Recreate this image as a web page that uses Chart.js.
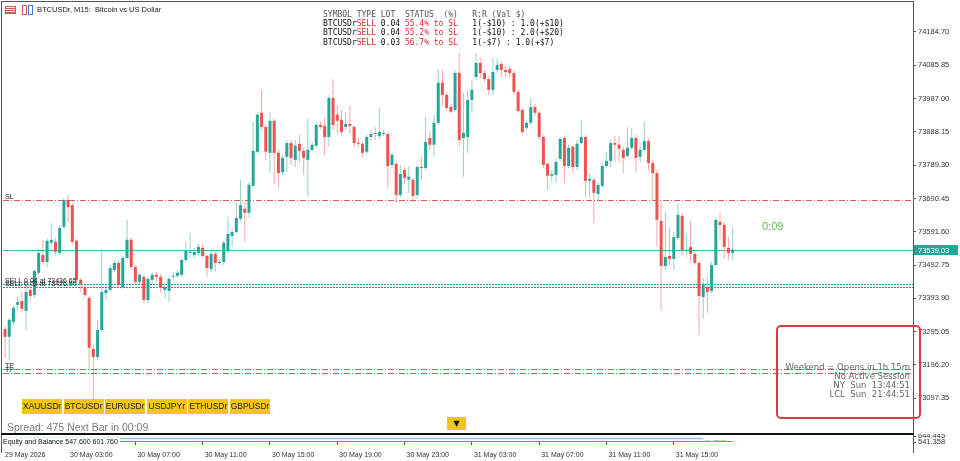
<!DOCTYPE html>
<html>
<head>
<meta charset="utf-8">
<title>BTCUSDr M15</title>
<script src="https://cdn.jsdelivr.net/npm/chart.js@4.4.1/dist/chart.umd.min.js"></script>
<style>
  html, body { margin: 0; padding: 0; background: #fff; }
  #stage { position: relative; width: 960px; height: 461px; overflow: hidden; font-family: "Liberation Sans", Arial, sans-serif; }
  canvas { position: absolute; left: 0; }
  #mainChart { top: 0; }
  #eqChart { top: 434px; }
  .abs { position: absolute; white-space: pre; }
  .rule { position: absolute; background: #555; }
  #title { left: 37px; top: 5px; font-size: 7.5px; line-height: 10px; color: #222; }
  .ico { position: absolute; box-sizing: border-box; }
  #posTable { left: 323px; top: 10px; font-family: "DejaVu Sans Mono", monospace; font-size: 8px; line-height: 9.2px; color: #111; }
  #posTable .hdr { color: #555; }
  #posTable .red { color: #e0282e; }
  #countdown { left: 762px; top: 220px; font-size: 11px; color: #5cb85c; }
  #session { left: 776px; top: 325px; width: 145px; height: 94px; box-sizing: border-box; border: 2px solid #dc3a40; border-radius: 5px; }
  #sessionText { right: 50px; top: 363px; text-align: right; font-family: "DejaVu Sans", sans-serif; font-size: 8.5px; line-height: 9.1px; color: #666; }
  .btn { position: absolute; top: 399px; width: 40px; height: 15px; background: #f5c516; color: #222; font-size: 8.5px; line-height: 15px; text-align: center; }
  #spread { left: 7px; top: 421px; font-size: 10.5px; color: #7a7a7a; }
  #arrowBtn { position: absolute; left: 447px; top: 417px; width: 19px; height: 13px; background: #f5c516; font-family: "DejaVu Sans", sans-serif; font-size: 8px; line-height: 13px; text-align: center; color: #111; }
  #eqLabel { left: 3px; top: 438px; font-size: 7px; line-height: 8px; color: #111; background: #fff; padding-right: 2px; }
</style>
</head>
<body>
<div id="stage">
  <canvas id="mainChart" width="960" height="434"></canvas>
  <canvas id="eqChart" width="960" height="27"></canvas>

  <div class="rule" style="left:1px; top:1px; width:913px; height:1px;"></div>
  <div class="rule" style="left:1px; top:1px; width:1px; height:452px;"></div>
  <div class="rule" style="left:913px; top:1px; width:1px; height:452px;"></div>
  <div class="rule" style="left:1px; top:433px; width:913px; height:2px; background:#111;"></div>

  <div class="ico" style="left:5px; top:6px; width:11px; height:8px; border:1px solid #d9534f; background:repeating-linear-gradient(#fff 0 1px, #d9534f 1px 2px);"></div>
  <div class="ico" style="left:22px; top:5px; width:5px; height:10px; border:1px solid #d9534f;"></div>
  <div class="ico" style="left:28px; top:5px; width:5px; height:10px; border:1px solid #3a7bd5;"></div>
  <div id="title" class="abs">BTCUSDr, M15:  Bitcoin vs US Dollar</div>

  <div id="posTable" class="abs"></div>
  <div id="countdown" class="abs">0:09</div>

  <div id="session" class="abs"></div>
  <div id="sessionText" class="abs"></div>

  <div id="buttons"></div>
  <div id="arrowBtn">▼</div>
  <div id="spread" class="abs">Spread: 475 Next Bar in 00:09</div>
  <div id="eqLabel" class="abs">Equity and Balance 547.600 601.760</div>
</div>

<script>
// Candle data (BTCUSDr M15), bar 0 = 29 May 23:15
const opens = [
  73303, 73280, 73324, 73375, 73386, 73357, 73419, 73404, 73470, 73523,
  73502, 73559, 73562, 73529, 73606, 73686, 73671, 73565, 73449, 73425,
  73395, 73244, 73220, 73300, 73410, 73419, 73478, 73499, 73428, 73514,
  73568, 73487, 73443, 73458, 73389, 73449, 73464, 73458, 73419, 73416,
  73458, 73461, 73464, 73508, 73529, 73523, 73529, 73544, 73520, 73481,
  73526, 73499, 73502, 73535, 73579, 73591, 73630, 73660, 73648, 73728,
  73829, 73945, 73903, 73826, 73921, 73826, 73769, 73814, 73855, 73805,
  73853, 73832, 73805, 73835, 73847, 73909, 73906, 73873, 73989, 73939,
  73924, 73903, 73912, 73903, 73855, 73853, 73829, 73873, 73885, 73876,
  73882, 73882, 73790, 73793, 73701, 73775, 73746, 73746, 73701, 73784,
  73781, 73870, 73850, 73915, 74034, 73998, 73962, 73953, 74063, 73870,
  73873, 73983, 74051, 74093, 74063, 74045, 74013, 74072, 74090, 74072,
  74075, 74063, 74007, 73953, 73900, 73915, 73962, 73945, 73873, 73793,
  73758, 73760, 73808, 73870, 73787, 73844, 73784, 73855, 73873, 73743,
  73746, 73704, 73728, 73787, 73802, 73855, 73850, 73835, 73817, 73841,
  73870, 73814, 73835, 73861, 73796, 73766, 73624, 73490, 73520, 73511,
  73573, 73639, 73535, 73547, 73526, 73499, 73398, 73428, 73416, 73493,
  73621, 73612, 73544, 73529
];
const highs = [
  73312, 73336, 73372, 73398, 73413, 73440, 73431, 73478, 73541, 73568,
  73570, 73618, 73573, 73612, 73692, 73701, 73677, 73570, 73455, 73434,
  73401, 73256, 73330, 73538, 73434, 73493, 73508, 73508, 73520, 73627,
  73573, 73493, 73470, 73464, 73458, 73470, 73473, 73467, 73440, 73458,
  73473, 73478, 73514, 73562, 73588, 73544, 73556, 73556, 73526, 73532,
  73532, 73508, 73565, 73636, 73603, 73680, 73746, 73680, 73740, 73918,
  73945, 74013, 73909, 73945, 73927, 73835, 73820, 73864, 73864, 73864,
  73879, 73841, 73927, 73858, 73915, 73918, 73930, 73998, 74045, 73968,
  73953, 73945, 73965, 73909, 73873, 73858, 73879, 73894, 73903, 73959,
  73894, 73888, 73826, 73799, 73790, 73784, 73787, 73752, 73790, 73814,
  73933, 73888, 73939, 74072, 74072, 74004, 73971, 74072, 74123, 74004,
  74013, 74043, 74123, 74108, 74072, 74054, 74108, 74108, 74096, 74084,
  74084, 74072, 74013, 73959, 73921, 73989, 73971, 73950, 73879, 73799,
  73775, 73811, 73873, 73876, 73850, 73850, 73864, 73924, 73879, 73766,
  73752, 73740, 73796, 73829, 73864, 73876, 73876, 73844, 73903, 73900,
  73879, 73855, 73918, 73870, 73805, 73775, 73680, 73651, 73603, 73591,
  73674, 73648, 73588, 73624, 73532, 73505, 73455, 73458, 73502, 73633,
  73648, 73621, 73576, 73606
];
const lows = [
  73217, 73211, 73315, 73360, 73354, 73300, 73389, 73395, 73464, 73493,
  73487, 73550, 73523, 73523, 73600, 73621, 73556, 73443, 73413, 73398,
  73182, 73063, 73211, 73294, 73389, 73413, 73473, 73428, 73422, 73508,
  73478, 73434, 73437, 73380, 73380, 73440, 73443, 73410, 73395, 73383,
  73449, 73455, 73458, 73502, 73514, 73514, 73520, 73514, 73458, 73473,
  73473, 73493, 73493, 73529, 73547, 73585, 73624, 73562, 73633, 73722,
  73823, 73894, 73805, 73766, 73734, 73722, 73760, 73769, 73790, 73784,
  73799, 73760, 73695, 73826, 73841, 73897, 73820, 73844, 73894, 73885,
  73879, 73894, 73885, 73844, 73841, 73814, 73820, 73864, 73864, 73867,
  73876, 73722, 73781, 73677, 73695, 73731, 73707, 73680, 73692, 73746,
  73775, 73835, 73814, 73909, 73968, 73953, 73942, 73948, 73844, 73755,
  73826, 73948, 74043, 74048, 74037, 73998, 73998, 74063, 74051, 74051,
  74048, 73998, 73945, 73882, 73894, 73909, 73936, 73864, 73781, 73716,
  73737, 73737, 73802, 73737, 73781, 73766, 73775, 73850, 73695, 73695,
  73618, 73683, 73722, 73781, 73784, 73799, 73799, 73766, 73811, 73835,
  73769, 73799, 73829, 73775, 73686, 73547, 73357, 73478, 73493, 73478,
  73568, 73523, 73517, 73502, 73493, 73285, 73333, 73351, 73410, 73487,
  73568, 73511, 73508, 73508
];
const closes = [
  73280, 73330, 73366, 73383, 73363, 73413, 73401, 73475, 73529, 73502,
  73565, 73568, 73532, 73603, 73686, 73665, 73562, 73449, 73437, 73404,
  73247, 73220, 73300, 73413, 73419, 73484, 73499, 73434, 73514, 73568,
  73487, 73443, 73464, 73389, 73452, 73464, 73458, 73425, 73428, 73452,
  73461, 73470, 73508, 73535, 73532, 73532, 73547, 73520, 73484, 73526,
  73499, 73502, 73559, 73585, 73591, 73633, 73671, 73648, 73731, 73832,
  73939, 73903, 73829, 73921, 73826, 73766, 73811, 73855, 73811, 73847,
  73832, 73811, 73835, 73850, 73909, 73903, 73873, 73989, 73909, 73921,
  73888, 73912, 73906, 73855, 73853, 73826, 73873, 73882, 73882, 73888,
  73885, 73787, 73820, 73701, 73763, 73752, 73755, 73698, 73784, 73781,
  73858, 73850, 73915, 74034, 73998, 73959, 73948, 74063, 73864, 73885,
  73983, 74013, 74093, 74063, 74045, 74013, 74066, 74087, 74072, 74066,
  74063, 74007, 73950, 73888, 73915, 73962, 73945, 73873, 73790, 73758,
  73763, 73799, 73867, 73787, 73841, 73784, 73853, 73873, 73743, 73749,
  73707, 73731, 73787, 73802, 73855, 73850, 73838, 73811, 73841, 73870,
  73811, 73835, 73861, 73796, 73766, 73627, 73490, 73517, 73511, 73576,
  73642, 73538, 73538, 73526, 73499, 73401, 73437, 73413, 73493, 73627,
  73612, 73547, 73529, 73539.03
];

// Price axis ticks and time axis labels
const priceTicks = [74184.70, 74085.85, 73987.00, 73888.15, 73789.30, 73690.45,
  73591.60, 73492.75, 73393.90, 73295.05, 73196.20, 73097.35];
const timeLabels = ['29 May 2026', '30 May 03:00', '30 May 07:00', '30 May 11:00', '30 May 15:00',
  '30 May 19:00', '30 May 23:00', '31 May 03:00', '31 May 07:00', '31 May 11:00', '31 May 15:00'];

// Trade levels
const slLevels = [73686];
const tpLevels = [73184.3, 73173.3];
const entryLevels = [73436.65, 73426.90];
const entryLots = ['0.04', '0.03'];
const lastPrice = 73539.03;

// Positions panel
const posSymbols = ['BTCUSDr', 'BTCUSDr', 'BTCUSDr'];
const posTypes = ['SELL', 'SELL', 'SELL'];
const posLots = ['0.04', '0.04', '0.03'];
const posStatus = ['55.4%', '55.2%', '56.7%'];
const posRR = ['1(-$10) : 1.0(+$10)', '1(-$10) : 2.0(+$20)', '1(-$7) : 1.0(+$7)'];

// Session panel and symbol buttons
const sessionLines = ['Weekend = Opens in 1h 15m', 'No Active Session', 'NY  Sun  13:44:51', 'LCL  Sun  21:44:51'];
const symbolButtons = ['XAUUSDr', 'BTCUSDr', 'EURUSDr', 'USDJPYr', 'ETHUSDr', 'GBPUSDr'];

// Equity pane (bar index, value)
const balancePts = [[0, 601.76], [166, 601.76]];
const equityPts = [[0, 547.6], [166, 547.6], [167, 556], [168, 549], [169, 560], [170, 551], [171, 557], [172, 550], [173, 547.6]];
const eqTicks = [644.445, 541.358];

// View window
const X_MIN = -0.48;
const X_MAX = 215.88;
const Y_MIN = 72997.3;
const Y_MAX = 74267.8;

const BULL = '#26a69a';
const BEAR = '#ef5350';
const BULL_WICK = 'rgba(38, 166, 154, 0.5)';
const BEAR_WICK = 'rgba(239, 83, 80, 0.5)';
const AXIS_FONT = { family: '"Liberation Sans", Arial, sans-serif', size: 7.5 };

// --- overlays ---
const table = document.getElementById('posTable');
let html = '<div class="hdr">SYMBOL TYPE LOT  STATUS  (%)   R:R (Val $)</div>';
posSymbols.forEach((sym, k) => {
    html += `<div>${sym}<span class="red">${posTypes[k]}</span> ${posLots[k]} <span class="red">${posStatus[k]} to SL</span>   ${posRR[k]}</div>`;
});
table.innerHTML = html;

document.getElementById('sessionText').textContent = sessionLines.join('\n');

const btnWrap = document.getElementById('buttons');
symbolButtons.forEach((s, k) => {
    const b = document.createElement('div');
    b.className = 'btn';
    b.style.left = (22 + k * 41.6) + 'px';
    b.textContent = s;
    btnWrap.appendChild(b);
});

// --- main candle chart ---
const idx = closes.map((_, i) => i);
const isUp = i => closes[i] >= opens[i];

const tradePlugin = {
    id: 'tradeLevels',
    beforeDatasetsDraw(chart) {
        const { ctx, chartArea: area, scales: { y } } = chart;
        ctx.save();
        ctx.lineWidth = 1;
        const level = (price, color, dash) => {
            const py = Math.round(y.getPixelForValue(price)) + 0.5;
            ctx.strokeStyle = color;
            ctx.setLineDash(dash);
            ctx.beginPath();
            ctx.moveTo(area.left, py);
            ctx.lineTo(area.right, py);
            ctx.stroke();
        };
        slLevels.forEach(p => level(p, '#dd5a5a', [6, 2, 1, 2]));
        tpLevels.forEach(p => level(p, '#dd5a5a', [6, 2, 1, 2]));
        entryLevels.forEach(p => level(p, '#1f9e90', [2, 1]));
        level(lastPrice, '#4db6ac', []);
        ctx.restore();
    },
    afterDatasetsDraw(chart) {
        const { ctx, scales: { y } } = chart;
        ctx.save();
        ctx.font = '7px "Liberation Sans", Arial, sans-serif';
        ctx.fillStyle = '#222';
        ctx.textBaseline = 'alphabetic';
        const tag = (text, price) => ctx.fillText(text, 5, Math.round(y.getPixelForValue(price)) - 1);
        slLevels.forEach(p => tag('SL', p));
        tpLevels.forEach(p => tag('TP', p));
        entryLevels.forEach((p, k) => tag(`SELL ${entryLots[k]} at ${p.toFixed(2)}`, p));
        ctx.restore();
    },
    afterDraw(chart) {
        const { ctx, chartArea: area, scales: { y } } = chart;
        const py = Math.round(y.getPixelForValue(lastPrice));
        ctx.save();
        ctx.fillStyle = BULL;
        ctx.fillRect(area.right + 1, py - 5, 44, 10);
        ctx.fillStyle = '#fff';
        ctx.font = '7.5px "Liberation Sans", Arial, sans-serif';
        ctx.textBaseline = 'middle';
        ctx.fillText(lastPrice.toFixed(2), area.right + 5, py + 0.5);
        ctx.restore();
    }
};

new Chart(document.getElementById('mainChart'), {
    type: 'bar',
    data: {
        datasets: [
            {
                data: idx.map(i => ({ x: i, y: [lows[i], highs[i]] })),
                backgroundColor: idx.map(i => isUp(i) ? BULL_WICK : BEAR_WICK),
                barThickness: 1,
                grouped: false,
                inflateAmount: 0,
                order: 2
            },
            {
                data: idx.map(i => ({ x: i, y: [opens[i], closes[i]] })),
                backgroundColor: idx.map(i => isUp(i) ? BULL : BEAR),
                barThickness: 3,
                minBarLength: 1,
                grouped: false,
                inflateAmount: 0,
                order: 1
            }
        ]
    },
    options: {
        responsive: false,
        animation: false,
        layout: { padding: { left: 3, top: 4, right: 0, bottom: 2 } },
        plugins: { legend: { display: false }, tooltip: { enabled: false } },
        scales: {
            x: { type: 'linear', min: X_MIN, max: X_MAX, offset: false, display: false },
            y: {
                position: 'right',
                min: Y_MIN,
                max: Y_MAX,
                afterFit(s) { s.width = 47; s.paddingTop = 0; s.paddingBottom = 0; },
                afterBuildTicks(s) { s.ticks = priceTicks.map(v => ({ value: v })); },
                ticks: { color: '#333', font: AXIS_FONT, padding: 2, autoSkip: false, callback: v => v.toFixed(2) },
                grid: { drawOnChartArea: false, tickLength: 3, color: '#555' },
                border: { color: '#555' }
            }
        }
    },
    plugins: [tradePlugin]
});

// --- equity / balance pane ---
const tickBars = [X_MIN].concat(timeLabels.slice(1).map((_, k) => 15 + 16 * k));

new Chart(document.getElementById('eqChart'), {
    type: 'line',
    data: {
        datasets: [
            { data: balancePts.map(([x, v]) => ({ x, y: v })), borderColor: '#8cc4ec', borderWidth: 1.5, pointRadius: 0 },
            { data: equityPts.map(([x, v]) => ({ x, y: v })), borderColor: '#3cc43c', borderWidth: 1.2, pointRadius: 0 }
        ]
    },
    options: {
        responsive: false,
        animation: false,
        layout: { padding: { left: 3, top: 2, right: 0, bottom: 0 } },
        plugins: { legend: { display: false }, tooltip: { enabled: false } },
        scales: {
            x: {
                type: 'linear',
                min: X_MIN,
                max: X_MAX,
                afterFit(s) { s.height = 19; s.paddingLeft = 0; s.paddingRight = 0; },
                afterBuildTicks(s) { s.ticks = tickBars.map(v => ({ value: v })); },
                ticks: {
                    autoSkip: false, maxRotation: 0, align: 'start', labelOffset: 2, padding: 6,
                    color: '#333', font: { family: AXIS_FONT.family, size: 7 },
                    callback: (v, i) => timeLabels[i]
                },
                grid: { drawOnChartArea: false, tickLength: 3, color: '#555' },
                border: { display: false }
            },
            y: {
                position: 'right',
                min: eqTicks[1],
                max: eqTicks[0],
                afterFit(s) { s.width = 47; s.paddingTop = 0; s.paddingBottom = 0; },
                afterBuildTicks(s) { s.ticks = eqTicks.map(v => ({ value: v })); },
                ticks: { color: '#333', font: AXIS_FONT, padding: 2, autoSkip: false, callback: v => v.toFixed(3) },
                grid: { drawOnChartArea: false, tickLength: 3, color: '#555' },
                border: { color: '#555' }
            }
        }
    }
});
</script>
</body>
</html>
